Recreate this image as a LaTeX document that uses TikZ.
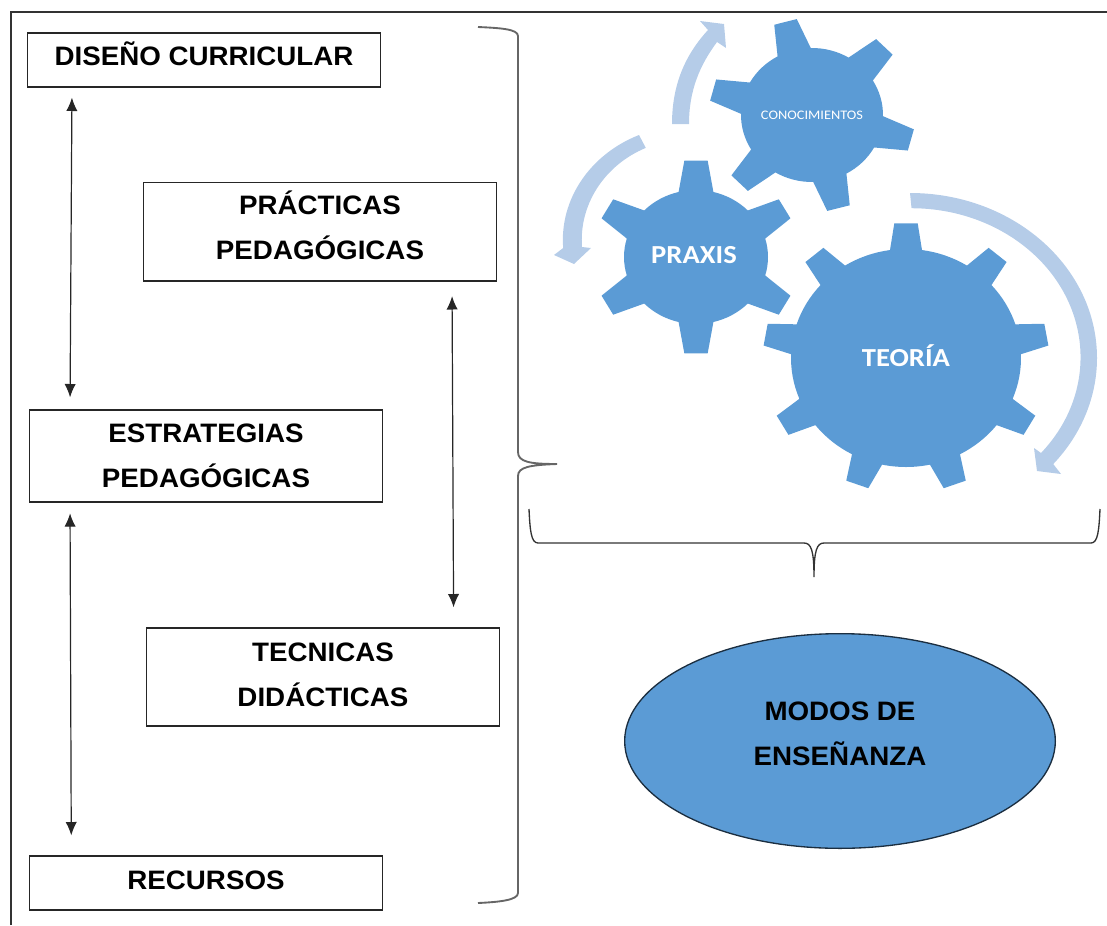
\documentclass[tikz,border=0pt]{standalone}
\usepackage{fontspec}
\newfontfamily\boxfont[FakeStretch=1.04]{Liberation Sans}
\newfontfamily\gearfont[FakeStretch=1.1]{Carlito}
\usetikzlibrary{shapes.geometric,arrows.meta}
\definecolor{gearblue}{HTML}{5B9BD5}
\definecolor{arrowblue}{HTML}{B5CCE8}
\tikzset{
  concept/.style={draw=black!85,line width=1pt,minimum width=265pt,align=center,inner sep=0pt,
    font=\fontsize{20}{33.75}\selectfont\boxfont\bfseries},
  conn/.style={{Latex[length=10pt,width=8.5pt]}-{Latex[length=10pt,width=8.5pt]},line width=0.9pt,black!85},
  brace/.style={draw=black!60,line width=1.4pt},
  lowbrace/.style={draw=black!80,line width=1pt},
  gearfill/.style={fill=gearblue},
  turn/.style={fill=arrowblue},
  gearlabel/.style={text=white,font=\gearfont\bfseries,inner sep=0pt},
}
\begin{document}
\begin{tikzpicture}[x=0.75pt,y=-0.75pt]
\useasboundingbox (0,0) rectangle (1107,925);
\draw[draw=black!80,line width=1.3pt] (11,925) -- (11,12) -- (1107,12);

\node[concept,minimum height=40.5pt,text depth=9pt] (diseno) at (204,60) {DISEÑO CURRICULAR};
\node[concept,minimum height=74pt,text depth=9pt] (practicas) at (320,231.5) {PRÁCTICAS\\PEDAGÓGICAS};
\node[concept,minimum height=69pt] (estrategias) at (206,456) {ESTRATEGIAS\\PEDAGÓGICAS};
\node[concept,minimum height=73.5pt,text depth=4pt] (tecnicas) at (323,677) {TECNICAS\\DIDÁCTICAS};
\node[concept,minimum height=40.5pt,text depth=4pt] (recursos) at (206,883) {RECURSOS};

\draw[conn,shorten <=7.5pt,shorten >=9pt] ([xshift=34pt]diseno.south west) -- ([xshift=31pt]estrategias.north west);
\draw[conn,shorten <=11pt,shorten >=15pt] ([xshift=-34pt]practicas.south east) -- ([xshift=-35pt]tecnicas.north east);
\draw[conn,shorten <=8pt,shorten >=15pt] ([xshift=31pt]estrategias.south west) -- ([xshift=32pt]recursos.north west);

% llaves
\draw[brace] (478,27) .. controls (500,28) and (518,29) .. (518,36) -- (518,452) .. controls (518,462) and (530,464) .. (557,464)
  .. controls (530,465) and (518,467) .. (518,476) -- (518,893) .. controls (518,900) and (500,902) .. (478,903);
\draw[lowbrace] (529,509) .. controls (530,530) and (531,543) .. (538,543) -- (804,543) .. controls (811,543) and (814,550) .. (814,577)
  .. controls (814,550) and (817,543) .. (824,543) -- (1091,543) .. controls (1098,543) and (1099,530) .. (1100,509);

% engranajes
\foreach \cx/\cy/\rx/\ry/\ox/\oy/\num/\rot/\tip/\bas in {906/358/115/109/143/135/9/-90/4.7/8,696/257/72/67/103/97/6/-90/6.5/14,812/115/71/67/103/97/6/15/6.5/14}{
  \begin{scope}[shift={(\cx,\cy)}]
  \fill[gearfill] (\rot+360/\num-\bas:{\rx} and {\ry}) \foreach \k [evaluate=\k as \a using \rot+\k*360/\num] in {1,...,\num}{
    -- (\a-\tip:{\ox} and {\oy}) -- (\a+\tip:{\ox} and {\oy}) -- (\a+\bas:{\rx} and {\ry})
    arc[start angle=\a+\bas,end angle=\a+360/\num-\bas,x radius=\rx,y radius=\ry]} -- cycle;
  \end{scope}
}
\node[gearlabel,font=\fontsize{19.5}{20}\selectfont\gearfont\bfseries] (teoria) at (906,356) {TEORÍA};
\node[gearlabel,font=\fontsize{19.5}{20}\selectfont\gearfont\bfseries] (praxis) at (694,255) {PRAXIS};
\node[gearlabel,font=\fontsize{9.8}{10}\selectfont\gearfont] (conocimientos) at (812,115) {CONOCIMIENTOS};

% flechas de giro
\fill[turn] (910,193) arc[start angle=-90,end angle=40,x radius=187,y radius=165] -- (1061,474) -- (1037,471) -- (1034,448) -- (1041,453)
  arc[start angle=40,end angle=-90,x radius=169,y radius=149] -- cycle;
\fill[turn] (639,135) arc[start angle=246.4,end angle=176,x radius=127,y radius=114.6] -- (554,255) -- (574,264) -- (591,248) -- (582,247)
  arc[start angle=176,end angle=246,x radius=108,y radius=100.8] -- cycle;
\fill[turn] (672,124) .. controls (672,85) and (685,55) .. (708,30) -- (700,21) -- (724,24) -- (726,48) -- (717,42)
  .. controls (700,65) and (689,90) .. (689,124) -- cycle;

\node[concept,ellipse,fill=gearblue,draw=black!70!gearblue,minimum width=323pt,minimum height=161pt,text depth=11pt] (modos) at (840,741) {MODOS DE\\ENSEÑANZA};
\end{tikzpicture}
\end{document}
